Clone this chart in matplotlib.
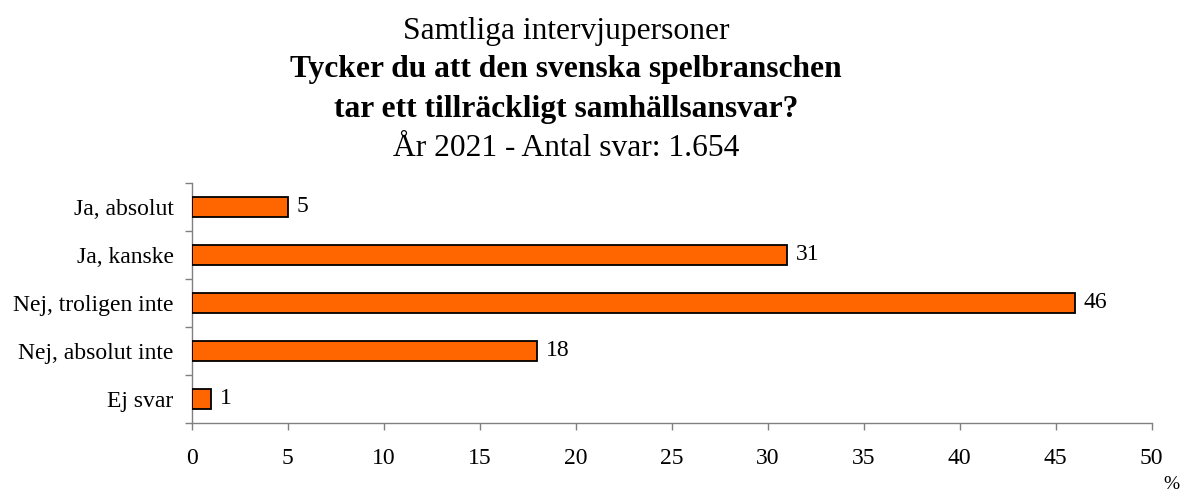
import numpy as np
import matplotlib.pyplot as plt

categories = ['Ja, absolut', 'Ja, kanske', 'Nej, troligen inte', 'Nej, absolut inte', 'Ej svar']
values = [5, 31, 46, 18, 1]
xticks = [0, 5, 10, 15, 20, 25, 30, 35, 40, 45, 50]

plt.rcParams['font.family'] = ['Liberation Serif', 'DejaVu Serif']

fig = plt.figure(figsize=(11.83, 4.91), dpi=100)
ax = fig.add_axes([191.7/1183, 1-423/491, 960/1183, 240/491])

y = np.arange(len(categories))
ax.barh(y, values, height=0.42, color='#FF6600', edgecolor='black', linewidth=1.3, zorder=3)
for yi, v in zip(y, values):
    ax.text(v + 0.45, yi, str(v), va='center', ha='left', fontsize=17)

ax.set_xlim(0, 50)
ax.set_ylim(len(categories) - 0.5, -0.5)
ax.set_xticks(xticks)
ax.set_xticklabels([str(t) for t in xticks], fontsize=17)
ax.set_yticks(y)
ax.set_yticklabels(categories, fontsize=17)
ax.set_yticks(np.arange(-0.5, len(categories)), minor=True)

grey = '#808080'
for s in ['top', 'right']:
    ax.spines[s].set_visible(False)
for s in ['left', 'bottom']:
    ax.spines[s].set_color(grey)
    ax.spines[s].set_linewidth(1.0)
ax.tick_params(axis='x', which='major', direction='out', length=5, width=1.0, color=grey, pad=13)
ax.tick_params(axis='y', which='major', length=0, pad=13)
ax.tick_params(axis='y', which='minor', direction='out', length=5, width=1.0, color=grey)

cx = 566/1183
fig.text(cx, 1-31/491, 'Samtliga intervjupersoner', ha='center', va='center', fontsize=22.7)
fig.text(cx, 1-70/491, 'Tycker du att den svenska spelbranschen', ha='center', va='center', fontsize=22.7, fontweight='bold')
fig.text(cx, 1-109/491, 'tar ett tillräckligt samhällsansvar?', ha='center', va='center', fontsize=22.7, fontweight='bold')
fig.text(cx, 1-148/491, 'År 2021 - Antal svar: 1.654', ha='center', va='center', fontsize=22.7)
fig.text(1171/1183, 1-476/491, '%', ha='center', va='top', fontsize=14)

fig.savefig('out.png', dpi=100)
